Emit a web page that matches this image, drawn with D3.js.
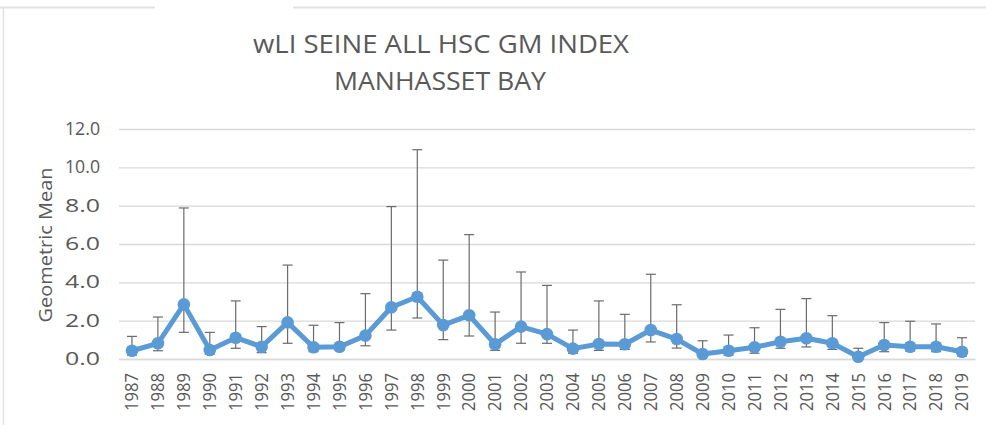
<!DOCTYPE html>
<html><head><meta charset="utf-8">
<script src="https://cdn.jsdelivr.net/npm/d3@7"></script>
<style>html,body{margin:0;padding:0;background:#fff;}svg{display:block;}</style>
</head><body>
<svg id="c" width="986" height="425"></svg>
<script>
const years = d3.range(1987, 2020).map(String);
const gm = [0.43,0.82,2.85,0.47,1.11,0.64,1.91,0.61,0.64,1.22,2.70,3.25,1.77,2.28,0.77,1.69,1.30,0.54,0.78,0.77,1.51,1.04,0.26,0.43,0.61,0.90,1.08,0.82,0.12,0.73,0.64,0.64,0.38];
const upper = [1.18,2.19,7.88,1.39,3.03,1.69,4.90,1.76,1.90,3.41,7.95,10.92,5.16,6.49,2.45,4.54,3.84,1.51,3.03,2.33,4.42,2.83,0.95,1.25,1.63,2.59,3.15,2.26,0.56,1.90,1.97,1.83,1.11];
const lower = [0.20,0.43,1.39,0.25,0.56,0.33,0.82,0.38,0.45,0.69,1.51,2.14,1.01,1.20,0.45,0.82,0.82,0.30,0.45,0.50,0.89,0.57,0.10,0.20,0.30,0.56,0.63,0.50,0.05,0.38,0.42,0.38,0.15];
const yTicks = [0,2,4,6,8,10,12];
const titleLines = ["wLI SEINE ALL HSC GM INDEX","MANHASSET BAY"];
const yTitle = "Geometric Mean";

const svg = d3.select("#c");
const font = "'Open Sans', sans-serif";
const txt = "#595959";
const grid = "#d9d9d9";

// frame
svg.append("path").attr("d","M0,7.5H155 M293,7.5H986").attr("stroke","#e3e3e3").attr("stroke-width",2).attr("fill","none");
svg.append("path").attr("d","M3.5,7V425").attr("stroke","#e3e3e3").attr("stroke-width",1.5).attr("fill","none");

const x = d3.scaleBand().domain(years).range([119,975]).padding(0);
const y = d3.scaleLinear().domain([0,12]).range([359,129]);

// gridlines
const ga = svg.append("g").attr("transform","translate(119,0)")
  .call(d3.axisLeft(y).tickValues(yTicks).tickSize(-856).tickFormat(d3.format(".1f")).tickPadding(19));
ga.select(".domain").remove();
ga.selectAll(".tick line").attr("stroke",grid).attr("stroke-width",1.3);
ga.selectAll(".tick text").attr("fill",txt).attr("font-family",font).attr("font-size",17.5)
  .attr("textLength",35).attr("lengthAdjust","spacingAndGlyphs");

// x axis
const xa = svg.append("g").attr("transform","translate(0,359)")
  .call(d3.axisBottom(x).tickSize(0).tickSizeOuter(0));
xa.select(".domain").attr("stroke",grid).attr("stroke-width",1.3);
xa.selectAll(".tick text").attr("fill",txt).attr("font-family",font).attr("font-size",17.5)
  .attr("transform","rotate(-90)").attr("text-anchor","end").attr("dy","0.36em").attr("x",-14).attr("y",0)
  .attr("textLength",38).attr("lengthAdjust","spacingAndGlyphs");

// error bars
const eb = svg.append("g").attr("stroke","#6b6b6b").attr("stroke-width",1.2).attr("fill","none");
years.forEach((yr,i)=>{
  const cx = x(yr)+x.bandwidth()/2;
  eb.append("line").attr("x1",cx).attr("x2",cx).attr("y1",y(upper[i])).attr("y2",y(lower[i]));
  eb.append("line").attr("x1",cx-5).attr("x2",cx+5).attr("y1",y(upper[i])).attr("y2",y(upper[i]));
  eb.append("line").attr("x1",cx-5).attr("x2",cx+5).attr("y1",y(lower[i])).attr("y2",y(lower[i]));
});

// line
const blue = "#5b9bd5";
const line = d3.line().x((d,i)=>x(years[i])+x.bandwidth()/2).y(d=>y(d));
svg.append("path").datum(gm).attr("d",line).attr("fill","none").attr("stroke",blue).attr("stroke-width",5).attr("stroke-linejoin","round");
svg.append("g").selectAll("circle").data(gm).join("circle")
  .attr("cx",(d,i)=>x(years[i])+x.bandwidth()/2).attr("cy",d=>y(d)).attr("r",6.3).attr("fill",blue);

// titles
svg.append("text").attr("x",441).attr("y",53).attr("text-anchor","middle").attr("fill",txt)
  .attr("font-family",font).attr("font-size",26).attr("textLength",376).attr("lengthAdjust","spacingAndGlyphs").text(titleLines[0]);
svg.append("text").attr("x",440).attr("y",90).attr("text-anchor","middle").attr("fill",txt)
  .attr("font-family",font).attr("font-size",26).attr("textLength",212).attr("lengthAdjust","spacingAndGlyphs").text(titleLines[1]);

svg.append("text").attr("transform","translate(52,245) rotate(-90)").attr("text-anchor","middle").attr("fill",txt)
  .attr("font-family",font).attr("font-size",19).attr("textLength",155).attr("lengthAdjust","spacingAndGlyphs").text(yTitle);
</script>
</body></html>
